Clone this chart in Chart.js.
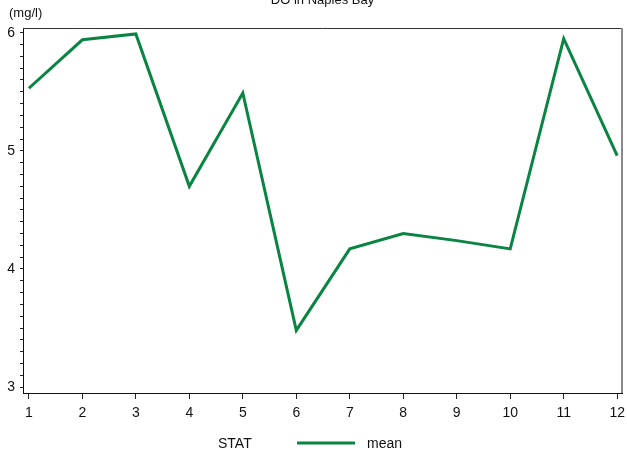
<!DOCTYPE html>
<html>
<head>
<meta charset="utf-8">
<script src="https://cdn.jsdelivr.net/npm/chart.js@4"></script>
<style>
  html, body { margin: 0; padding: 0; background: #fff; }
  #wrap { width: 627px; height: 459px; }
</style>
</head>
<body>
<div id="wrap"><canvas id="graficoDO" width="627" height="459"></canvas></div>
<script>
// datos
const meses = [1, 2, 3, 4, 5, 6, 7, 8, 9, 10, 11, 12];
const valoresMedia = [5.53, 5.94, 5.99, 4.70, 5.49, 3.48, 4.17, 4.30, 4.24, 4.17, 5.95, 4.96];
const etiquetasY = [3, 4, 5, 6];
const tituloGrafico = 'DO in Naples Bay';
const unidadY = '(mg/l)';
const tituloLeyenda = 'STAT';
const nombreSerie = 'mean';

const colorLinea = '#0a8443';
const fuente = '"Liberation Sans", Arial, sans-serif';

// titulo, unidad, marco y leyenda
const decoracion = {
  id: 'decoracion',
  afterDraw(chart) {
    const ctx = chart.ctx;
    const area = chart.chartArea;
    ctx.save();

    // marco superior y derecho
    ctx.strokeStyle = '#333';
    ctx.lineWidth = 1;
    ctx.beginPath();
    ctx.moveTo(area.left, area.top + 0.5);
    ctx.lineTo(area.right, area.top + 0.5);
    ctx.stroke();
    ctx.strokeStyle = '#8a8a8a';
    ctx.lineWidth = 2;
    ctx.beginPath();
    ctx.moveTo(area.right, area.top);
    ctx.lineTo(area.right, area.bottom);
    ctx.stroke();

    ctx.fillStyle = '#111';
    ctx.font = '13px ' + fuente;
    ctx.textAlign = 'center';
    ctx.textBaseline = 'alphabetic';
    ctx.fillText(tituloGrafico, (area.left + area.right) / 2, 4);

    ctx.textAlign = 'left';
    ctx.textBaseline = 'middle';
    ctx.fillText(unidadY, 9, 13);

    // leyenda
    const yLey = 443;
    ctx.font = '14px ' + fuente;
    ctx.fillText(tituloLeyenda, 218, yLey + 1);
    ctx.strokeStyle = chart.data.datasets[0].borderColor;
    ctx.lineWidth = 3;
    ctx.beginPath();
    ctx.moveTo(297, yLey);
    ctx.lineTo(355, yLey);
    ctx.stroke();
    ctx.fillText(chart.data.datasets[0].label, 367, yLey + 1);

    ctx.restore();
  }
};

const ctx = document.getElementById('graficoDO').getContext('2d');
const graficoDO = new Chart(ctx, {
  type: 'line',
  data: {
    labels: meses,
    datasets: [{
      label: nombreSerie,
      data: meses.map((m, i) => ({ x: m, y: valoresMedia[i] })),
      borderColor: colorLinea,
      backgroundColor: colorLinea,
      borderWidth: 3,
      pointRadius: 0,
      tension: 0
    }]
  },
  options: {
    responsive: false,
    animation: false,
    layout: { padding: { top: 28, right: 5, bottom: 36, left: 0 } },
    plugins: {
      legend: { display: false },
      title: { display: false },
      tooltip: { enabled: false }
    },
    scales: {
      x: {
        type: 'linear',
        min: 0.89,
        max: 12.09,
        afterFit: (scale) => {
          scale.height = 30;
          scale.paddingLeft = 0;
          scale.paddingRight = 0;
        },
        afterBuildTicks: (scale) => {
          scale.ticks = meses.map(v => ({ value: v }));
        },
        grid: { drawOnChartArea: false, drawTicks: true, tickLength: 6, color: '#222' },
        border: { display: true, color: '#111', width: 1 },
        ticks: {
          color: '#111',
          font: { family: fuente, size: 14 },
          padding: 6,
          maxRotation: 0,
          autoSkip: false,
          callback: (v) => String(v)
        }
      },
      y: {
        min: 2.95,
        max: 6.04,
        afterFit: (scale) => {
          scale.width = 23;
          scale.paddingTop = 0;
          scale.paddingBottom = 0;
        },
        afterBuildTicks: (scale) => {
          const t = [];
          for (let k = 30; k <= 60; k++) t.push({ value: k / 10 });
          scale.ticks = t;
        },
        grid: { drawOnChartArea: false, drawTicks: true, tickLength: 3, color: '#222' },
        border: { display: true, color: '#111', width: 1 },
        ticks: {
          color: '#111',
          font: { family: fuente, size: 14 },
          padding: 5,
          autoSkip: false,
          callback: (v) => {
            const r = Math.round(v);
            return (Math.abs(v - r) < 1e-6 && etiquetasY.includes(r)) ? String(r) : '';
          }
        }
      }
    }
  },
  plugins: [decoracion]
});
</script>
</body>
</html>
